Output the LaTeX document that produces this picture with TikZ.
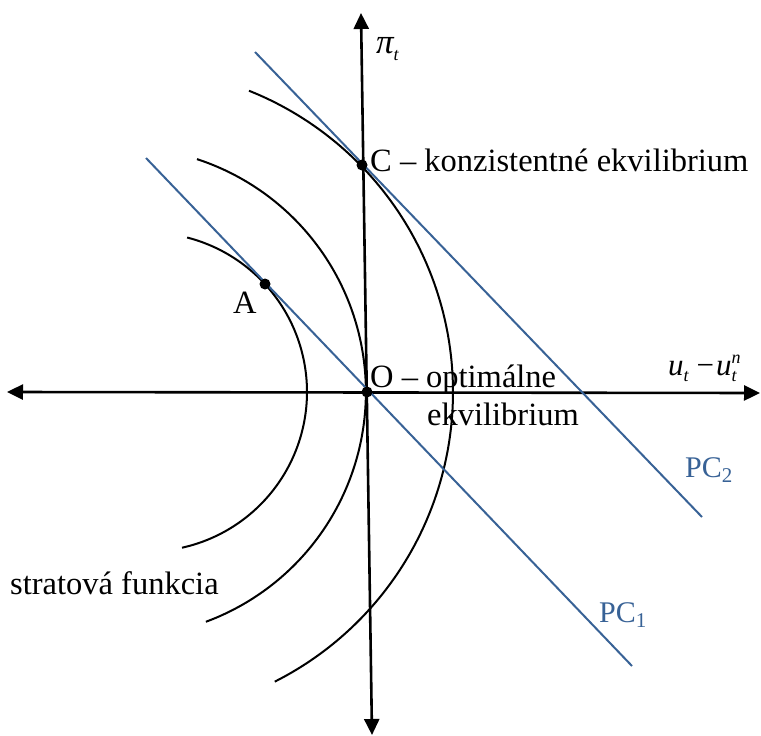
\documentclass[tikz,border=0pt]{standalone}
\usepackage{fontspec}
\setmainfont{Liberation Serif}
\usetikzlibrary{arrows.meta}
\definecolor{pcblue}{RGB}{56,98,150}
\begin{document}
\begin{tikzpicture}[x=1pt,y=-1pt,
  axis/.style={line width=2.6pt,{Triangle[length=16pt,width=15pt]}-{Triangle[length=16pt,width=15pt]}},
  curve/.style={line width=2pt,black},
  pcline/.style={line width=2pt,pcblue},
  dot/.style={circle,fill=black,inner sep=0pt,minimum size=11pt},
  lab/.style={anchor=base west,inner sep=0pt,font=\fontsize{32.5}{36}\selectfont},
  pclab/.style={anchor=base west,inner sep=0pt,text=pcblue,font=\fontsize{30}{33}\selectfont}]
\useasboundingbox (0,0) rectangle (761,736);
% axes
\coordinate (xL) at (7,392);
\coordinate (xR) at (760,393);
\coordinate (yB) at (372,735);
\coordinate (yT) at (361,13);
\draw[axis] (xL) -- (xR);
\draw[axis] (yB) -- (yT);
% loss-function arcs
\draw[curve] plot[domain=-77.5:75.6,samples=80,smooth] ({147.5+159.5*cos(\x)},{392-159.5*sin(\x)});
\draw[curve] plot[domain=-69.7:71.9,samples=80,smooth] ({120.9+245*cos(\x)},{392-245*sin(\x)});
\draw[curve] plot[domain=-63.2:68.2,samples=80,smooth] ({128.5+324.5*cos(\x)},{392-324.5*sin(\x)});
% Phillips curves
\coordinate (p1s) at (146,158);
\coordinate (p1e) at (632,666);
\coordinate (p2s) at (255,52);
\coordinate (p2e) at (702,517);
\draw[pcline] (p1s) -- (p1e);
\draw[pcline] (p2s) -- (p2e);
% points
\node[dot] (C) at (362,165) {};
\node[dot] (A) at (265,284) {};
\node[dot] (O) at (367,392) {};
% labels
\node[lab] (pilab) at (376,53) {\fontsize{35}{36}\selectfont\itshape π\raisebox{-7pt}{\fontsize{18}{18}\selectfont t}};
\node[lab] (ulab) at (668,375) {\fontsize{31}{34}\selectfont\itshape u\raisebox{-6pt}{\fontsize{18}{18}\selectfont t}\hspace{8pt}\upshape−\hspace{2pt}\itshape u\rlap{\raisebox{-6pt}{\fontsize{18}{18}\selectfont t}}\raisebox{12pt}{\fontsize{18}{18}\selectfont n}};
\node[lab] (Clab) at (370,171) {C – konzistentné ekvilibrium};
\node[lab] (Olab) at (370,387) {O – optimálne};
\node[lab] (Olab2) at (427,425) {ekvilibrium};
\node[lab] (Alab) at (233,313) {A};
\node[lab] (slab) at (10,594) {stratová funkcia};
\node[pclab] (pc2) at (685,477) {PC\textsubscript{2}};
\node[pclab] (pc1) at (599,622) {PC\textsubscript{1}};
\end{tikzpicture}
\end{document}
